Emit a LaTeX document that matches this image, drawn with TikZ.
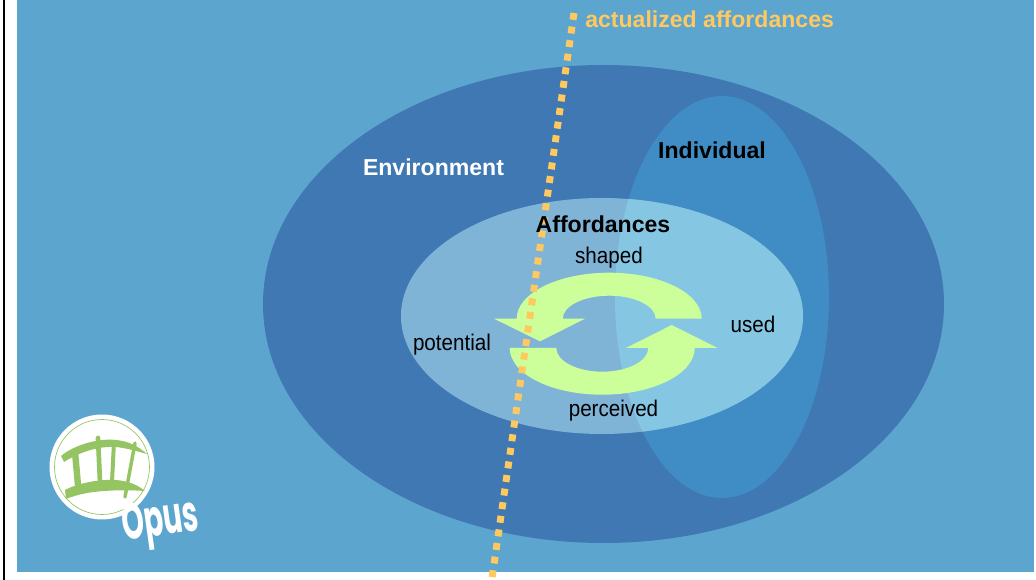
\documentclass[tikz,border=0pt]{standalone}
\usepackage{fontspec}
\setmainfont{Liberation Sans}
\newfontfamily\opusfont{Poppins}
\usepackage{tikz}

\definecolor{sky}{HTML}{5CA5CF}
\definecolor{envblue}{HTML}{3F78B2}
\definecolor{indblue}{HTML}{408DC5}
\definecolor{affpale}{HTML}{80B4D7}
\definecolor{affbright}{HTML}{85C6E3}
\definecolor{cyclegreen}{HTML}{CCFF99}
\definecolor{dotyellow}{HTML}{FFC95F}
\definecolor{logogreen}{HTML}{95C462}

\tikzset{
  boldlabel/.style={font=\fontsize{17.3}{18}\selectfont\bfseries,inner sep=0pt},
  thinlabel/.style={font=\fontsize{17}{18}\selectfont,inner sep=0pt,text=black,xscale=.91},
  bridge/.style={draw=logogreen,line cap=round},
  cycle/.style={fill=cyclegreen}
}

\begin{document}
\begin{tikzpicture}
  [x=.75pt,y=-.75pt]
  \useasboundingbox (0,0) rectangle (1036,580);
  \fill[white] (0,0) rectangle (1036,580);
  \fill[sky] (17,0) rectangle (1034,572.5);
  \draw[black,line width=1.5pt] (4,0) -- (4,580);

  \fill[envblue] (603.5,304) ellipse (340.5 and 239);
  \fill[indblue] (722,297) ellipse (107 and 201);
  \fill[affpale] (602,316) ellipse (201 and 118);
  \begin{scope}
    \clip (722,297) ellipse (107 and 201);
    \fill[affbright] (602,316) ellipse (201 and 118);
  \end{scope}

  % upper and lower arrows of the cycle
  \path[cycle] (701.7,318.7) arc[start angle=0,end angle=-180,x radius=92.5,y radius=46]
    -- (494,318.7) -- (540,341.3) -- (585,318.7) -- (562.7,318.7)
    arc[start angle=-180,end angle=0,x radius=46.5,y radius=23] -- cycle;
  \path[cycle] (509.7,348) arc[start angle=180,end angle=0,x radius=92.5,y radius=46.7]
    -- (717.7,348) -- (671.7,325) -- (626,348) -- (648.3,348)
    arc[start angle=0,end angle=180,x radius=46,y radius=23.7] -- cycle;

  \coordinate (top) at (574,13);
  \coordinate (bottom) at (492,578);
  \draw[dotyellow,line width=5.2pt,dash pattern=on 5.2pt off 5.1pt] (top) -- (bottom);

  \node[boldlabel,text=dotyellow,anchor=west] (act) at (585,19.5) {actualized affordances};
  \node[boldlabel,text=white] (envlabel) at (433.5,167) {Environment};
  \node[boldlabel,text=black] (ind) at (712,150.5) {Individual};
  \node[boldlabel,text=black] (aff) at (603,224.5) {Affordances};
  \node[thinlabel] (shaped) at (609,258) {shaped};
  \node[thinlabel] (used) at (753,324) {used};
  \node[thinlabel] (potential) at (452,344.5) {potential};
  \node[thinlabel] (perceived) at (613.5,410.5) {perceived};

  % logo
  \fill[white] (102,467) circle (52.5);
  \draw[logogreen,line width=.5pt] (102,467) circle (47.5);
  \fill[logogreen] (61,456) .. controls (74,445) and (98,438) .. (116,440)
    .. controls (128,441) and (138,446) .. (147,454)
    .. controls (136,451) and (126,448) .. (116,447)
    .. controls (98,446) and (80,452) .. (64,462) -- cycle;
  \fill[logogreen] (65,490) .. controls (78,483) and (100,479) .. (116,480)
    .. controls (128,481) and (138,485) .. (145,491)
    .. controls (130,490) and (118,490) .. (104,491)
    .. controls (88,492) and (76,495) .. (66,499) -- cycle;
  \draw[bridge,line width=4.8pt] (75,452) -- (78,485);
  \draw[bridge,line width=3.5pt] (98,438) -- (100,482);
  \draw[bridge,line width=3pt] (114,442) -- (112,482);
  \draw[bridge,line width=2.6pt] (135,443) -- (125,497);
  \node[font=\opusfont\bfseries\fontsize{38}{38}\selectfont,text=white,inner sep=0pt,
    rotate=8,xscale=.56] (opus) at (161,524) {Opus};
\end{tikzpicture}
\end{document}
